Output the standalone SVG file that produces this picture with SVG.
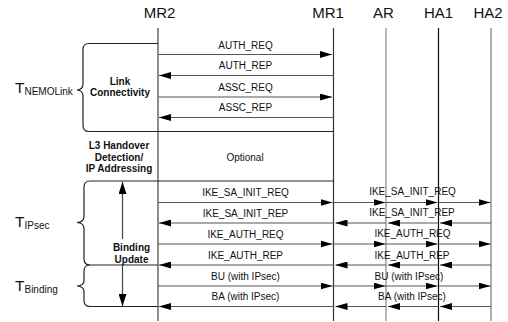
<svg xmlns="http://www.w3.org/2000/svg" width="508" height="322" viewBox="0 0 508 322">
<defs>
<style>
.hdr{font-family:"Liberation Sans",Arial,sans-serif;font-size:15px;fill:#111;text-anchor:middle}
.lbl{font-family:"Liberation Sans",Arial,sans-serif;font-size:10px;fill:#111;text-anchor:middle}
.bold{font-family:"Liberation Sans",Arial,sans-serif;font-size:10px;font-weight:bold;fill:#111;text-anchor:middle}
.tbig{font-family:"Liberation Sans",Arial,sans-serif;font-size:15.5px;fill:#111}
.tsub{font-size:10px}
.life{stroke-width:1.2;fill:none}
.msg{stroke:#555;stroke-width:1.2;fill:none;marker-end:url(#ah)}
.brace{stroke:#222;stroke-width:1.2;fill:none}
</style>
<marker id="ah" markerUnits="userSpaceOnUse" markerWidth="12" markerHeight="7" refX="12" refY="3.5" orient="auto">
<path d="M0,0 L12,3.5 L0,7 z" fill="#000"/>
</marker>
<marker id="ahs" markerUnits="userSpaceOnUse" markerWidth="12" markerHeight="8" refX="12" refY="4" orient="auto-start-reverse">
<path d="M0,0 L12,4 L0,8 z" fill="#000"/>
</marker>
</defs>
<rect width="508" height="322" fill="#fff"/>

<g id="MR2"><text class="hdr" x="159.5" y="18">MR2</text><line class="life" stroke="#444" x1="158" y1="28" x2="158" y2="321"/></g>
<g id="MR1"><text class="hdr" x="328" y="18">MR1</text><line class="life" stroke="#333" x1="333.5" y1="28" x2="333.5" y2="321"/></g>
<g id="AR"><text class="hdr" x="383.5" y="18">AR</text><line class="life" stroke="#888" x1="386" y1="28" x2="386" y2="321"/></g>
<g id="HA1"><text class="hdr" x="438.5" y="18">HA1</text><line class="life" stroke="#111" x1="438.5" y1="28" x2="438.5" y2="321"/></g>
<g id="HA2"><text class="hdr" x="488" y="18">HA2</text><line class="life" stroke="#777" x1="491" y1="28" x2="491" y2="321"/></g>

<g id="phase-link">
<path class="brace" d="M158,43.5 H89 Q83,43.5 83,49.5 V84 Q83,89.5 77,90 Q83,90.5 83,96 V125.5 Q83,131.5 89,131.5 H333.5"/>
<text class="tbig" x="15" y="93">T<tspan class="tsub" dy="2">NEMOLink</tspan></text>
<text class="bold" x="120" y="84.5">Link</text>
<text class="bold" x="120" y="96">Connectivity</text>
</g>

<g id="phase-l3">
<text class="bold" x="119" y="149">L3 Handover</text>
<text class="bold" x="119" y="160.5">Detection/</text>
<text class="bold" x="119" y="172">IP Addressing</text>
<text class="lbl" x="245" y="160.5">Optional</text>
</g>

<g id="phase-ipsec">
<path class="brace" d="M333.5,181 H90 Q84,181 84,187 V216.5 Q84,222 77,222.5 Q84,223 84,228.5 V259 Q84,265 90,265 H158"/>
<text class="tbig" x="15" y="227">T<tspan class="tsub" dy="2">IPsec</tspan></text>
</g>

<g id="phase-binding">
<path class="brace" d="M90,265 Q84,265 84,271 V280.5 Q84,285.5 77,286 Q84,286.5 84,291.5 V300.5 Q84,306.5 90,306.5 H158"/>
<text class="tbig" x="15" y="291">T<tspan class="tsub" dy="2">Binding</tspan></text>
</g>

<g id="binding-update">
<line stroke="#444" stroke-width="1.2" x1="122.5" y1="182" x2="122.5" y2="306" marker-start="url(#ahs)" marker-end="url(#ahs)"/>
<rect x="111" y="239" width="41" height="25" fill="#fff"/>
<text class="bold" x="131.5" y="251">Binding</text>
<text class="bold" x="131.5" y="262.5">Update</text>
</g>

<g id="connectors">
<path class="msg" d="M158,54.5 H332"/>
<path class="msg" d="M333.5,75.5 H159"/>
<path class="msg" d="M158,97 H332"/>
<path class="msg" d="M333.5,117.5 H159"/>

<path class="msg" d="M158,202.5 H332.5"/>
<path class="msg" d="M333.5,202.5 H385.5"/>
<path class="msg" d="M386,202.5 H437.5"/>
<path class="msg" d="M438.5,202.5 H490.5"/>

<path class="msg" d="M491,223 H440"/>
<path class="msg" d="M438.5,223 H388"/>
<path class="msg" d="M386,223 H335.5"/>
<path class="msg" d="M333.5,223 H159"/>

<path class="msg" d="M158,244 H332.5"/>
<path class="msg" d="M333.5,244 H385.5"/>
<path class="msg" d="M386,244 H437.5"/>
<path class="msg" d="M438.5,244 H490.5"/>

<path class="msg" d="M491,265 H440"/>
<path class="msg" d="M438.5,265 H388"/>
<path class="msg" d="M386,265 H335.5"/>
<path class="msg" d="M333.5,265 H159"/>

<path class="msg" d="M158,286 H332.5"/>
<path class="msg" d="M333.5,286 H385.5"/>
<path class="msg" d="M386,286 H437.5"/>
<path class="msg" d="M438.5,286 H490.5"/>

<path class="msg" d="M491,306.5 H440"/>
<path class="msg" d="M438.5,306.5 H388"/>
<path class="msg" d="M386,306.5 H335.5"/>
<path class="msg" d="M333.5,306.5 H159"/>

<text class="lbl" x="245.5" y="48.5">AUTH_REQ</text>
<text class="lbl" x="245.5" y="69">AUTH_REP</text>
<text class="lbl" x="245.5" y="90.5">ASSC_REQ</text>
<text class="lbl" x="245.5" y="111">ASSC_REP</text>

<text class="lbl" x="245.5" y="196">IKE_SA_INIT_REQ</text>
<text class="lbl" x="245.5" y="216.5">IKE_SA_INIT_REP</text>
<text class="lbl" x="245.5" y="237.5">IKE_AUTH_REQ</text>
<text class="lbl" x="245.5" y="258.5">IKE_AUTH_REP</text>
<text class="lbl" x="245.5" y="279.5">BU (with IPsec)</text>
<text class="lbl" x="245.5" y="300">BA (with IPsec)</text>

<text class="lbl" x="412.5" y="195">IKE_SA_INIT_REQ</text>
<text class="lbl" x="412" y="216">IKE_SA_INIT_REP</text>
<text class="lbl" x="412.5" y="237">IKE_AUTH_REQ</text>
<text class="lbl" x="412" y="258.5">IKE_AUTH_REP</text>
<text class="lbl" x="409" y="279.5">BU (with IPsec)</text>
<text class="lbl" x="412" y="300">BA (with IPsec)</text>
</g>
</svg>
